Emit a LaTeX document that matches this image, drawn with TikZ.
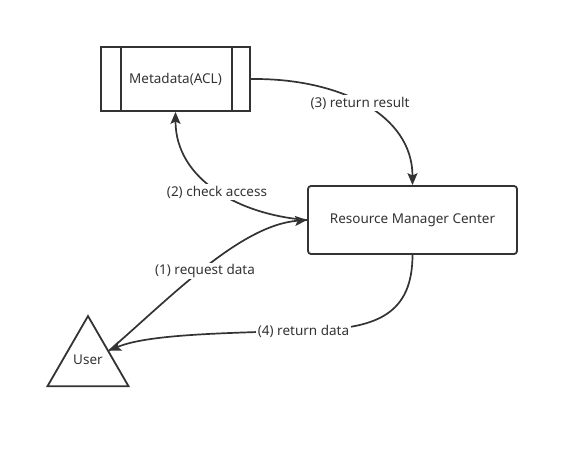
\documentclass[tikz,border=0pt]{standalone}
\usepackage{fontspec}
\setmainfont{Noto Sans}
\usetikzlibrary{arrows.meta,shapes.geometric}
\definecolor{ink}{HTML}{333333}
\begin{document}
\begin{tikzpicture}[x=1pt,y=-1pt,
  every node/.style={font=\fontsize{13.5}{16}\selectfont, text=ink},
  box/.style={draw=ink, line width=1.8pt, fill=white, inner sep=0pt},
  arr/.style={draw=ink, line width=1.7pt, -{Stealth[length=12pt,width=10pt,inset=2.5pt]}},
  plain/.style={draw=ink, line width=1.8pt},
  lbl/.style={fill=white, inner sep=1.5pt}]
\path[use as bounding box, fill=white] (0,0) rectangle (579,448);

\node[box, minimum width=149pt, minimum height=64pt] (meta) at (175.5,79) {Metadata(ACL)};
\draw[plain] ([xshift=21pt]meta.north west) -- ([xshift=21pt]meta.south west);
\draw[plain] ([xshift=-19pt]meta.north east) -- ([xshift=-19pt]meta.south east);

\node[box, rounded corners=3pt, minimum width=209pt, minimum height=68pt] (rmc) at (412.5,220) {Resource Manager Center};

\node[box, regular polygon, regular polygon sides=3, minimum size=93.5pt] (user) at (88,362.8) {};
\node (usertxt) at (88,360) {User};

\coordinate (w4) at (320,330);

\draw[arr] (user.side 3) .. controls (170,298) and (240,225) .. (rmc.west);
\draw[arr] (rmc.west) .. controls (240,215) and (175.5,180) .. (meta.south);
\draw[arr] (meta.east) .. controls (340,78) and (412.5,115) .. (rmc.north);
\draw[arr] (rmc.south) .. controls (412.5,315) and (375,327) .. (w4) .. controls (240,333) and (150,333) .. (user.side 3);

\node[lbl] (l1) at (205,271) {(1) request data};
\node[lbl] (l2) at (217,192) {(2) check access};
\node[lbl] (l3) at (360,103) {(3) return result};
\node[lbl] (l4) at (303.5,331) {(4) return data};
\end{tikzpicture}
\end{document}
